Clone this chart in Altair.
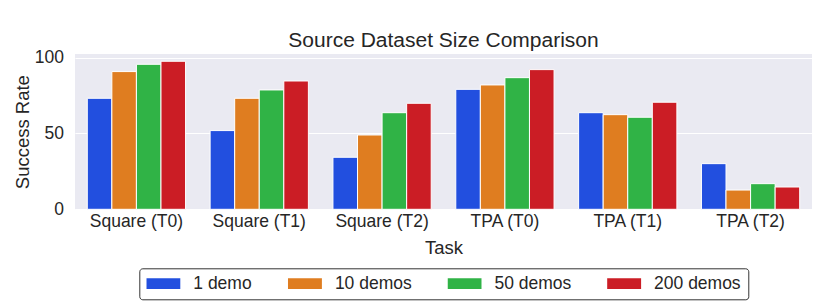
import altair as alt
import pandas as pd

tasks = ["Square (T0)", "Square (T1)", "Square (T2)", "TPA (T0)", "TPA (T1)", "TPA (T2)"]
series = ["1 demo", "10 demos", "50 demos", "200 demos"]
colors = ["#224FDF", "#DF7D20", "#30B346", "#CB1D25"]
demo1 = [73.2, 51.9, 34.3, 79.1, 63.7, 30.1]
demo10 = [90.8, 73.2, 49.0, 82.0, 62.4, 12.7]
demo50 = [95.6, 78.7, 63.7, 86.8, 60.7, 16.9]
demo200 = [97.6, 84.6, 69.9, 92.1, 70.6, 14.7]

rows = []
for s, vals in zip(series, [demo1, demo10, demo50, demo200]):
    for t, v in zip(tasks, vals):
        rows.append({"Task": t, "Dataset": s, "Success Rate": v})
df = pd.DataFrame(rows)

FONT = "Liberation Sans"
TXT = "#262626"

chart = alt.Chart(df).mark_bar(stroke="white", strokeWidth=1).encode(
    x=alt.X("Task:N", sort=tasks,
            scale=alt.Scale(paddingInner=0.2, paddingOuter=0.1),
            axis=alt.Axis(labelAngle=0, title="Task", labelFontSize=17.5, titleFontSize=18.5,
                          labelPadding=3, titlePadding=9, ticks=False, tickSize=0, domain=False,
                          grid=False, labelColor=TXT, titleColor=TXT, labelFont=FONT,
                          titleFont=FONT, titleFontWeight="normal")),
    xOffset=alt.XOffset("Dataset:N", sort=series,
                        scale=alt.Scale(paddingInner=0, paddingOuter=0)),
    y=alt.Y("Success Rate:Q", scale=alt.Scale(domain=[0, 102.4], nice=False),
            axis=alt.Axis(values=[0, 50, 100], title="Success Rate", labelFontSize=17.5,
                          titleFontSize=18.5, labelPadding=11.5, titlePadding=2, ticks=False,
                          tickSize=0, domain=False, grid=True, gridColor="white",
                          gridWidth=1.2, labelColor=TXT, titleColor=TXT, labelFont=FONT,
                          titleFont=FONT, titleFontWeight="normal")),
    color=alt.Color("Dataset:N", sort=series, title=None,
                    scale=alt.Scale(domain=series, range=colors),
                    legend=alt.Legend(orient="none", legendX=64.3, legendY=214.3,
                                      direction="horizontal", columns=4,
                                      symbolType="M-1,-0.315H1V0.315H-1Z", symbolSize=1156,
                                      symbolStrokeWidth=0, symbolOpacity=1, clipHeight=16.7,
                                      labelFontSize=17.5, labelFont=FONT, labelColor=TXT,
                                      labelOffset=13, columnPadding=35.6, padding=7,
                                      strokeColor="#333333", cornerRadius=3,
                                      fillColor="white")),
).properties(
    width=737, height=155.3,
    title=alt.TitleParams("Source Dataset Size Comparison", fontSize=21, font=FONT,
                          fontWeight="normal", color=TXT, anchor="middle", frame="group",
                          baseline="alphabetic", offset=6, dy=25),
    autosize=alt.AutoSizeParams(type="none"),
    padding={"left": 67, "top": 46, "right": 10, "bottom": 92},
).configure_view(fill="#EAEAF2", stroke=None)

chart.save("out.html", embed_options={"renderer": "svg", "actions": False})
